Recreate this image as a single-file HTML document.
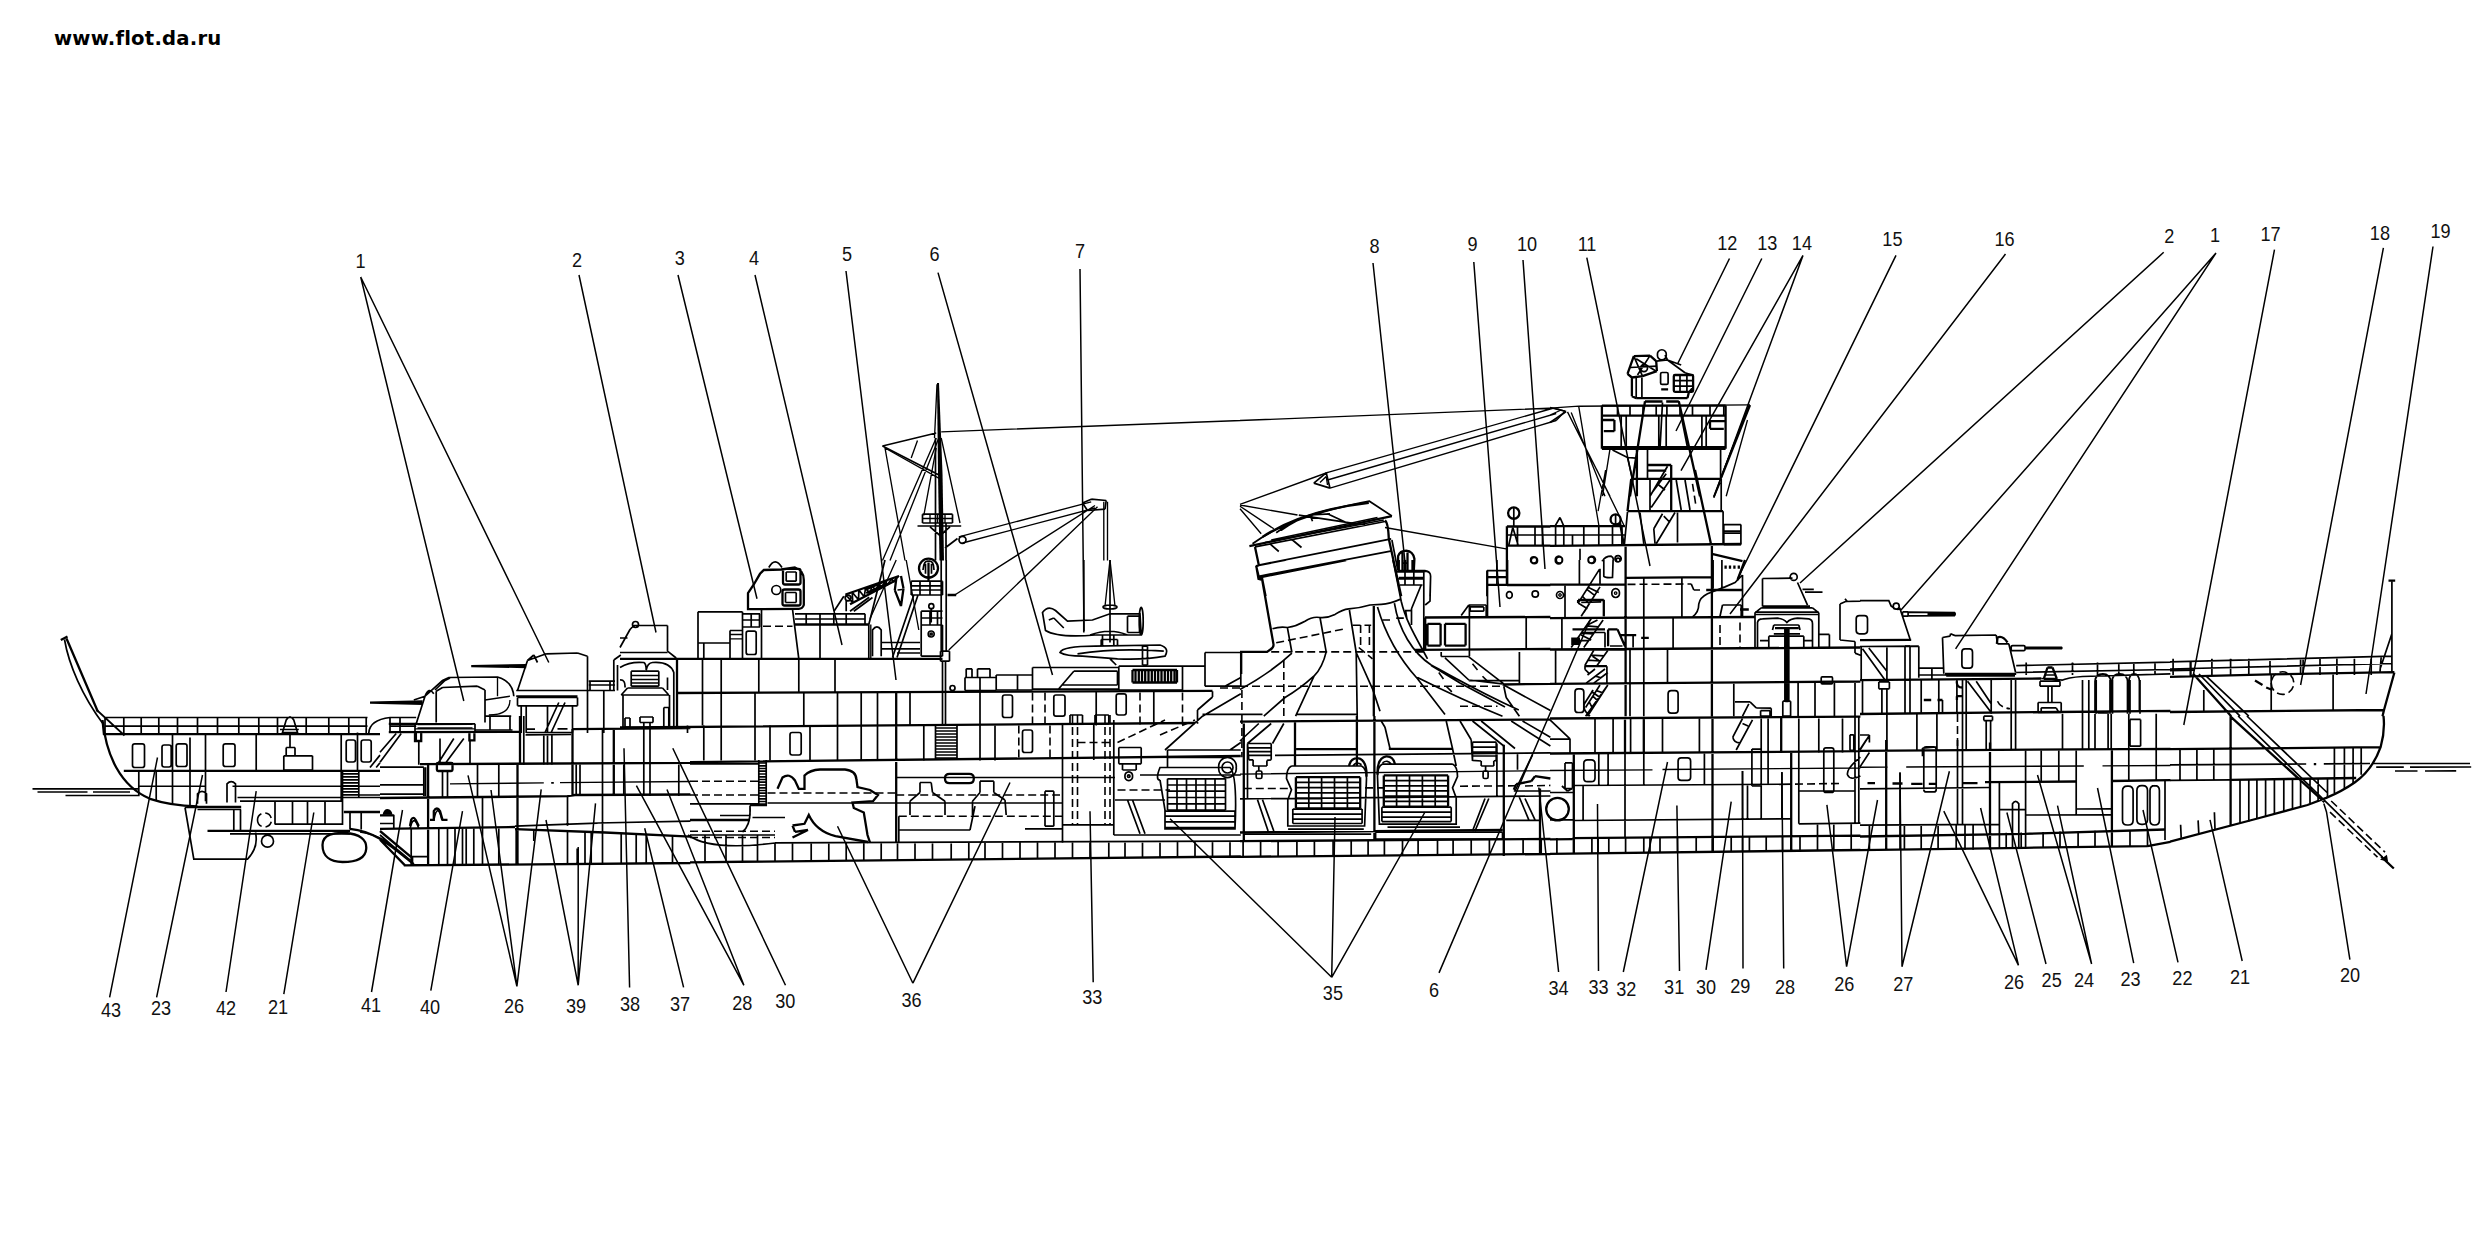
<!DOCTYPE html><html><head><meta charset="utf-8"><title>flot</title><style>
html,body{margin:0;padding:0;background:#fff}body{width:2483px;height:1251px;overflow:hidden;position:relative}
svg{position:absolute;left:0;top:0}
.wm{position:absolute;left:54px;top:27px;font:bold 19.65px "DejaVu Sans","Liberation Sans",sans-serif;color:#000;letter-spacing:0.2px;white-space:nowrap}
text{font-family:"Liberation Sans",sans-serif;font-size:19.5px;fill:#111}
</style></head><body>
<div class="wm">www.flot.da.ru</div>
<svg width="2483" height="1251" viewBox="0 0 2483 1251" fill="none" stroke="#000" stroke-linecap="butt" stroke-linejoin="miter">
<path stroke-width="1.35" d="M37.5 792L87.5 792M93 792L130 792M138.8 786.2L205.5 786.2M232.5 786.2L380 786.2M497.5 677L497.5 696.2M485 700L510 696.2M488.8 715Q510 715 510 700M415 728.8L475 728.8M588.8 685L615 685M730 634.5L742.5 634.5M730 638.8L742.5 638.8M870.8 624.5L870.8 658.8M896.2 560L870 618.8M906.2 560L918.8 630M1105 606.2L1110 560M1115 606.2L1110 560M1240 774.1L1550.4 770.6M1558.8 595A1.2 1.2 0 1 0 1561.2 595A1.2 1.2 0 1 0 1558.8 595ZM1614.4 593.1A1.2 1.2 0 1 0 1616.9 593.1A1.2 1.2 0 1 0 1614.4 593.1ZM1550 770.5L1652.5 769.8M1662.5 769.5L1860.4 768M1860 767.2L1887.5 767.1M1906.2 767L2083.8 766M2102.5 765.9L2170.4 765.5M1271.2 540L1377.5 517.5M1265 542.5L1383.8 520M1240 504.4L1327.5 472.5M1240 505L1297.5 515M1240 506.2L1273.8 528.8M1240 508.8L1261.2 533.8M1326.2 472.8L1553.8 408M1327.5 480L1556.2 413.5M1330 488.1L1556.2 420.5M1556.2 420.5L1565 411.2M1565 411.2L1553.8 408M1240 420.5L1555 408M1320 482.5L1326.2 476.5M1326.2 476.5L1327.5 485M1385 527.5L1506.2 548.8M1578.8 406.2L1750 404.8M1550 408.1L1578.8 406.2M1550 415L1561.2 410M1567.5 411.9L1610 496.2M1571.2 412.5L1605 496.2M1578.8 406.9L1593.8 496.2M1748.8 405.2L1713.8 496.2M1747.5 420L1726.2 496.2M1610 448.8L1602.5 496.2M1589.4 470L1598.8 525M1596.9 470L1623.8 525M1605.6 470L1598.1 511.2M937 384.2L934.5 438M941.2 431.8L1240.8 420.5M882.5 446L936.2 433M885 448L940.5 479.2M885 448L905 560.5M917.5 440.5L911.2 458M936.2 438L882.5 560.5M938.8 438L890 560.5M941.2 438L960 523M936.2 448L923.8 515.5M930 514.2L930 523M937.5 514.2L937.5 523M945 514.2L945 523M922.5 518.5L952.5 518.5M958.8 536.8L1091.2 501.8M962.5 543L1095 508M1103.8 501.8L1103.8 560.5M1107.5 501.8L1107.5 560.5M1095 505.5L955.5 594.5M1097.5 506.8L948.8 650M450 783.8L543.8 782.9M560 782.6L690.4 781.5"/>
<path stroke-width="1.7" d="M64.5 639.5C68.8 665 82.5 696.2 103 723.8M96.2 709.5L124.5 735.5M32.5 788.8L138.8 788.8M65.5 795.5L138.8 795.5M103.8 717.5L367.5 717.5M105 726.2L367.5 726.2M390 717.5L416.2 717.5M390 726.2L416.2 726.2M105 717.5L105 734.2M123.8 717.5L123.8 734.2M141.2 717.5L141.2 734.2M158.8 717.5L158.8 734.2M177.5 717.5L177.5 734.2M197.5 717.5L197.5 734.2M217.5 717.5L217.5 734.2M238.8 717.5L238.8 734.2M258.8 717.5L258.8 734.2M277.5 717.5L277.5 734.2M306.2 717.5L306.2 734.2M328.8 717.5L328.8 734.2M348.8 717.5L348.8 734.2M366.2 717.5L366.2 734.2M390 717.5L390 733M400 717.5L400 733M368.8 733Q369.5 720 390 717.5M282.5 732.5L286.2 720Q290 713.8 293.8 720L297.5 732.5ZM280 729.5L298.8 729.5M290 735L290 747.5M286.2 747.5L295 747.5M295 747.5L295 755.8M295 755.8L286.2 755.8M286.2 755.8L286.2 747.5M283.8 755.8L312.5 755.8M312.5 755.8L312.5 770M312.5 770L283.8 770M283.8 770L283.8 755.8M134.8 743.8L142.2 743.8Q144.5 743.8 144.5 746L144.5 765.2Q144.5 767.5 142.2 767.5L134.8 767.5Q132.5 767.5 132.5 765.2L132.5 746Q132.5 743.8 134.8 743.8ZM164.2 745L169 745Q171.2 745 171.2 747.2L171.2 764.8Q171.2 767 169 767L164.2 767Q162 767 162 764.8L162 747.2Q162 745 164.2 745ZM178.5 743.8L184.8 743.8Q187 743.8 187 746L187 764.2Q187 766.5 184.8 766.5L178.5 766.5Q176.2 766.5 176.2 764.2L176.2 746Q176.2 743.8 178.5 743.8ZM225.5 743.8L232.8 743.8Q235 743.8 235 746L235 764.2Q235 766.5 232.8 766.5L225.5 766.5Q223.2 766.5 223.2 764.2L223.2 746Q223.2 743.8 225.5 743.8ZM348.5 740L353.2 740Q355.5 740 355.5 742.2L355.5 759.8Q355.5 762 353.2 762L348.5 762Q346.2 762 346.2 759.8L346.2 742.2Q346.2 740 348.5 740ZM363.5 740L369 740Q371.2 740 371.2 742.2L371.2 759.8Q371.2 762 369 762L363.5 762Q361.2 762 361.2 759.8L361.2 742.2Q361.2 740 363.5 740ZM172.5 735L172.5 803.8M190 737.5L190 805M205.5 735L205.5 801.2M256.2 735L256.2 770.8M341.2 735L341.2 801.2M357.5 732.5L357.5 770.8M138.8 771.2L138.8 796.2M156.2 771.2L156.2 800.5M237.5 797.5L380 797.5M240 801.2L342.5 801.2M275 801.2L275 824.5M292.5 801.2L292.5 824.5M307.5 801.2L307.5 824.5M325 801.2L325 824.5M342.5 797.5L342.5 825M275 824.2L343 824.2M350 812.5L350 829.5M361.2 812.5L361.2 829.5M342.5 770.8L342.5 797.5M358.8 770.8L358.8 797.5M342.5 773.8L358.8 773.8M342.5 776.8L358.8 776.8M342.5 779.8L358.8 779.8M342.5 782.8L358.8 782.8M342.5 785.8L358.8 785.8M342.5 788.8L358.8 788.8M342.5 791.8L358.8 791.8M342.5 794.8L358.8 794.8M358.8 770.8L380 770.8M380 795L358.8 795M358.8 795L358.8 770.8M227 802.5L227 783.8Q231.2 779.5 235.5 783.8L235.5 802.5M197.5 803.8L197.5 793.8Q202 788.8 206.5 793.8L206.5 803.8M197.5 809.5L241.2 809.5M185 807.5L193.8 859.2L247.5 859.2Q258.8 847.5 255.5 832.5M233.8 810L233.8 830.5M240.5 810L240.5 830.5M230 833.8L350 833.8M261.5 841.2A6 6 0 1 0 273.5 841.2A6 6 0 1 0 261.5 841.2ZM360 832C382.5 835 395 847.5 410 860M410 828.8Q413.8 812.5 418.8 828.8M433.8 820Q437.5 801.2 442 820M370 767.5L380 755.1M376.2 767.5L380 762.8M416.2 723.8L425 696.2L442.5 680.5L448.8 677.5L497.5 677Q512.5 681.2 513.8 696.2M435 690L445 680.5M445 680.5L450 678M436.2 722.5L436.2 691.2M436.2 691.2L442.5 687.5M442.5 687.5L477.5 686.2M477.5 686.2L485 690M485 690L485 722.5M413.8 700L425 696.2M425 696.2Q428.8 686.2 433.8 693.8M415 723.8L475 723.8M475 723.8L475 733M415 733L415 723.8M490 716.2L490 730M510 716.2L510 730M485 716.2L511.2 716.2M475 730L512.5 730M517.5 690.5L527.5 660.5M527.5 660.5L546.2 653.8M546.2 653.8L577.5 653M577.5 653L587.5 656.2M587.5 656.2L587.5 690.5M527.5 660.5L533.8 655M533.8 655L537.5 662.5M516.2 690.5L615 690.5M516.2 696.2L577.5 696.2M517.5 697.5L577.5 697.5M577.5 697.5L577.5 705.8M577.5 705.8L517.5 705.8M517.5 705.8L517.5 697.5M521.2 705.8L521.2 733M526.2 705.8L526.2 733M545 732.5L558.8 702.5M551.2 732.5L565 702.5M547.5 706.2L547.5 732.5M572.5 706.2L572.5 732.5M587.5 690.5L587.5 733M603.8 690.5L603.8 733M590 681.2L590 690.5M610 681.2L610 690.5M588.8 681.2L615 681.2M526.2 732.5L572.5 732.5M620.8 655L613.8 660M613.8 660L613.8 690.5M617.5 665L617.5 690.5M620 647.5L630 629.5M630 629.5L633.8 625.5M633.8 625.5L667.5 625.5M667.5 625.5L667.5 651.2M667.5 651.2L676.2 658M632.5 624.5A3 3 0 1 0 638.5 624.5A3 3 0 1 0 632.5 624.5ZM620 652.5L667.5 652.5M620 638L627.5 638M620 667.5Q630 661.2 643.8 662.5Q646.2 663.8 646.2 670Q647.5 663 652.5 662.5Q670 661.2 673.8 672.5L673.8 727M631.2 671.2L658.8 671.2M658.8 671.2L658.8 686.2M658.8 686.2L631.2 686.2M631.2 686.2L631.2 671.2M631.2 675.5L658.8 675.5M631.2 679.5L658.8 679.5M631.2 683L658.8 683M621.2 695L627.5 688M627.5 688L662.5 688M662.5 688L668.8 695M621.2 695L668.8 695M620 680Q625.5 679.5 625 687.5M667.5 677.5L667.5 690M623 695L623 727M669.5 695L669.5 727M640 717L653 717M653 717L653 722.5M653 722.5L640 722.5M640 722.5L640 717M643.8 722.5L643.8 733M650 722.5L650 733M625 718L630 718M630 718L630 727M630 727L625 727M625 727L625 718M663.8 707.5L668.8 707.5M668.8 707.5L668.8 727M668.8 727L663.8 727M663.8 727L663.8 707.5M775 842.8L1240.8 841.2M690 835L775 835M775 842.8L775 861.4M792.5 842.7L792.5 861.2M811.2 842.6L811.2 861M828.8 842.6L828.8 860.8M846.2 842.5L846.2 860.6M863.8 842.5L863.8 860.4M881.2 842.4L881.2 860.3M897.5 842.4L897.5 860.1M915 842.3L915 859.9M932.5 842.3L932.5 859.7M951.2 842.2L951.2 859.5M968.8 842.2L968.8 859.3M985 842.1L985 859.2M1002.5 842.1L1002.5 859M1020 842L1020 858.8M1037.5 842L1037.5 858.6M1055 841.9L1055 858.4M1072.5 841.9L1072.5 858.2M1090 841.8L1090 858.1M1108.8 841.7L1108.8 857.9M1125 841.7L1125 857.7M1142.5 841.6L1142.5 857.5M1160 841.6L1160 857.3M1177.5 841.5L1177.5 857.1M1195 841.5L1195 857M1212.5 841.4L1212.5 856.8M1230 841.4L1230 856.6M705 835L705 862.1M726 835L726 861.9M742.5 835L742.5 861.7M757.5 835L757.5 861.6M698 611.8L742.5 611.8M742.5 611.8L742.5 658.8M742.5 658.8L698 658.8M698 658.8L698 611.8M698 643L730 643M730 630.5L730 658.8M703.8 643.8L703.8 658.8M730 630.5L742.5 630.5M742.5 613.8L742.5 627M751.2 613.8L751.2 627M759.5 613.8L759.5 627M742.5 613.8L760 613.8M742.5 620L760 620M742.5 627L760 627M768.8 567.5Q775 556.2 782 567.5M786.2 572L796.2 572M796.2 572L796.2 581.2M796.2 581.2L786.2 581.2M786.2 581.2L786.2 572M785.5 592.5L796.2 592.5M796.2 592.5L796.2 602.5M796.2 602.5L785.5 602.5M785.5 602.5L785.5 592.5M771.8 590A4.5 4.5 0 1 0 780.8 590A4.5 4.5 0 1 0 771.8 590ZM761.5 609.2L761.5 658.8M792.5 609.2L798.8 658.8M748.2 631.2L754.2 631.2Q756.2 631.2 756.2 633.2L756.2 652.5Q756.2 654.5 754.2 654.5L748.2 654.5Q746.2 654.5 746.2 652.5L746.2 633.2Q746.2 631.2 748.2 631.2ZM795 613.8L865 613.8M795 619L865 619M806.2 613.8L806.2 624.5M820 613.8L820 624.5M833.8 613.8L833.8 624.5M846.2 613.8L846.2 624.5M865 613.8L865 624.5M820 624.5L820 658.8M868.8 624.5L868.8 658.8M845.2 598A2.8 2.8 0 1 0 850.8 598A2.8 2.8 0 1 0 845.2 598ZM845.5 594.5L852.8 602.8M852.8 602.8L852.2 592.2M852.2 592.2L858.5 599.8M858.5 599.8L858.9 589.9M858.9 589.9L864.2 596.8M864.2 596.8L865.6 587.6M865.6 587.6L869.9 593.9M869.9 593.9L872.2 585.2M872.2 585.2L875.6 590.9M875.6 590.9L878.9 582.9M878.9 582.9L881.3 587.9M881.3 587.9L885.6 580.6M885.6 580.6L887 585M887 585L892.3 578.3M892.3 578.3L892.7 582M892.7 582L899 576M843.8 596.2L834 611.2M846.2 600.8L846.2 611.2M850 611.2L869.2 597.2M853.8 611.2L872.5 597.5M897.5 590L902.5 589.5M941.2 560L941.2 651.2M946.2 560L946.2 651.2M942.5 661.2L942.5 725.5M945.5 661.2L945.5 725.5M940.5 651.2L949.5 651.2M949.5 651.2L949.5 661.2M949.5 661.2L940.5 661.2M940.5 661.2L940.5 651.2M913.8 595L892.5 657.5M918 595L897 657.5M885 560L868.8 624.5M911.2 581.2L942.5 581.2M942.5 581.2L942.5 595M942.5 595L911.2 595M911.2 595L911.2 581.2M911.2 585.8L942.5 585.8M911.2 590L942.5 590M920 581.2L920 595M930 581.2L930 595M923 570Q923.8 560 928.5 561.2Q933.8 560 934 570M925.5 563.8L925.5 573.8M931.5 563.8L931.5 573.8M921.2 625L942.5 625M942.5 625L942.5 656.2M942.5 656.2L921.2 656.2M921.2 656.2L921.2 625M928.2 634A3 3 0 1 0 934.2 634A3 3 0 1 0 928.2 634ZM930.2 634A1 1 0 1 0 932.2 634A1 1 0 1 0 930.2 634ZM921.2 611.2L942.5 611.2M921.2 618L942.5 618M921.2 611.2L921.2 625M930 611.2L930 625M937.5 611.2L937.5 625M928.8 606.2A2.5 2.5 0 1 0 933.8 606.2A2.5 2.5 0 1 0 928.8 606.2ZM931.2 608.8L931.2 622.5M872.5 656.2L872.5 630Q877 623.8 881.2 630L881.2 656.2M881.2 642.5L920 642.5M881.2 648.8L920 648.8M897 653L920 653M702.5 658.8L702.5 692.5M721.2 658.8L721.2 692.5M758.8 658.8L758.8 692.5M798.8 658.8L798.8 692.5M835 658.8L835 692.5M702.5 692.5L702.5 725.5M721.2 692.5L721.2 725.5M755 692.5L755 725.5M803.8 692.5L803.8 725.5M837.5 692.5L837.5 725.5M861.2 692.5L861.2 725.5M877.5 692.5L877.5 725.5M910 692.5L910 725.5M687.5 725.5L687.5 733M703.8 725.5L703.8 760.5M721.2 725.5L721.2 760.5M755 725.5L755 760.5M770 725.5L770 760.5M810 725.5L810 760.5M837.5 725.5L837.5 760.5M861.2 725.5L861.2 760.5M877.5 725.5L877.5 760.5M923.8 725.5L923.8 760.5M980 725.5L980 760.5M995 725.5L995 760.5M792.2 732.5L799 732.5Q801.2 732.5 801.2 734.8L801.2 752.8Q801.2 755 799 755L792.2 755Q790 755 790 752.8L790 734.8Q790 732.5 792.2 732.5ZM935.5 725.5L935.5 760M957 725.5L957 760M935.5 728L957 728M935.5 731L957 731M935.5 734L957 734M935.5 737L957 737M935.5 740L957 740M935.5 743L957 743M935.5 746L957 746M935.5 749L957 749M935.5 752L957 752M935.5 755L957 755M935.5 758L957 758M690 763.8L758.8 763.8M758.8 763.8L758.8 803.8M758.8 803.8L690 803.8M758.8 760L758.8 806.2M766.2 760L766.2 806.2M758.8 763L766.2 763M758.8 765.8L766.2 765.8M758.8 768.5L766.2 768.5M758.8 771.2L766.2 771.2M758.8 774L766.2 774M758.8 776.8L766.2 776.8M758.8 779.5L766.2 779.5M758.8 782.2L766.2 782.2M758.8 785L766.2 785M758.8 787.8L766.2 787.8M758.8 790.5L766.2 790.5M758.8 793.2L766.2 793.2M758.8 796L766.2 796M758.8 798.8L766.2 798.8M758.8 801.5L766.2 801.5M758.8 804.2L766.2 804.2M688 835Q710 851.2 775 843M720 815.5L750 815.5M750 815.5L750 805.5M750 805.5L766.2 805.5M750 806.2Q751.2 825 742.5 832M767.5 803L1062.5 803M752.5 817.5L785 817.5M896.2 777.5L1115 777.5M1062.5 824.8L1113.8 824.8M910 815L910 801.2M910 801.2L920 792.5M920 792.5L920 782.5M920 782.5L931.2 782.5M931.2 782.5L932.5 792.5M932.5 792.5L945 801.2M945 801.2L945 815M972.5 815L972.5 801.2M972.5 801.2L980 792.5M980 792.5L980 781.2M980 781.2L993.8 781.2M993.8 781.2L993.8 792.5M993.8 792.5L1005 800M1005 800L1006.2 815M898.8 830L970 830M970 830L975 806.2M898.8 816.2L898.8 843M1045 791.2L1053.8 791.2M1053.8 791.2L1053.8 826.2M1053.8 826.2L1045 826.2M1045 826.2L1045 791.2M1025 828.8L1062.5 828.8M1062.5 723.8L1062.5 843M1113.8 720L1113.8 835M1070 715L1082.5 715M1082.5 715L1082.5 723.8M1082.5 723.8L1070 723.8M1070 723.8L1070 715M1095 715L1108.8 715M1108.8 715L1108.8 723.8M1108.8 723.8L1095 723.8M1095 723.8L1095 715M1093.8 723.8L1093.8 760M1113.8 835L1240.8 835M1118.8 747.5L1141.2 747.5M1141.2 747.5L1141.2 763.8M1141.2 763.8L1118.8 763.8M1118.8 763.8L1118.8 747.5M1122.5 763.8L1136.2 763.8M1136.2 763.8L1136.2 770M1136.2 770L1122.5 770M1122.5 770L1122.5 763.8M1125 776.2A3.8 3.8 0 1 0 1132.5 776.2A3.8 3.8 0 1 0 1125 776.2ZM1127.5 776.2A1.2 1.2 0 1 0 1130 776.2A1.2 1.2 0 1 0 1127.5 776.2ZM1115 800L1165 800M1140 775L1240.8 775M1127.5 800L1140 833.8M1132.5 800L1145 833.8M1160 780Q1155 780 1160 767.5L1230 767.5Q1237.5 775 1235 828.8L1165 828.8L1165 810L1160 780M1167.5 778.8L1225.5 778.8M1225.5 778.8L1225.5 810M1225.5 810L1167.5 810M1167.5 810L1167.5 778.8M1177 778.8L1177 810M1186.5 778.8L1186.5 810M1196 778.8L1196 810M1205.5 778.8L1205.5 810M1215 778.8L1215 810M1167.5 785L1225.5 785M1167.5 791.2L1225.5 791.2M1167.5 797.5L1225.5 797.5M1167.5 803.8L1225.5 803.8M1165 811.2L1235 811.2M1235 811.2L1235 827.5M1235 827.5L1165 827.5M1165 827.5L1165 811.2M1165 816.2L1235 816.2M1165 821.8L1235 821.8M1218.8 767.5A8.8 8.8 0 1 0 1236.2 767.5A8.8 8.8 0 1 0 1218.8 767.5ZM1222 767.5A5.5 5.5 0 1 0 1233 767.5A5.5 5.5 0 1 0 1222 767.5ZM1167.5 750L1240.8 750M1167.5 757.5L1230 757.5M1167.5 750L1167.5 767.5M1165 750L1202.5 716.2M1202.5 716.2L1240.8 693.8M1230 750L1240.8 742.5M1212.5 691.2L1212.5 697M1212.5 697L1197.5 710M1197.5 710L1197.5 723.8M965 677.5L980 677.5M980 677.5L980 690.5M980 690.5L965 690.5M965 690.5L965 677.5M966.2 668.8L972 668.8M972 668.8L972 677.5M972 677.5L966.2 677.5M966.2 677.5L966.2 668.8M977.5 668.8L990 668.8M990 668.8L990 677.5M990 677.5L977.5 677.5M977.5 677.5L977.5 668.8M980 677.5L980 690.5M980 677.5L996.2 677.5M996.2 677.5L996.2 690.5M996.2 690.5L980 690.5M980 690.5L980 677.5M996.2 675L1017.5 675M1017.5 675L1017.5 690M1017.5 690L996.2 690M996.2 690L996.2 675M1017.5 675L1032.5 675M1032.5 675L1032.5 690M1032.5 690L1017.5 690M1017.5 690L1017.5 675M950 688A2.5 2.5 0 1 0 955 688A2.5 2.5 0 1 0 950 688ZM1032.5 667.5L1118.8 667.5M1118.8 667.5L1118.8 689.2M1118.8 689.2L1032.5 689.2M1032.5 689.2L1032.5 667.5M1058.8 688.8L1073.8 671.2M1073.8 671.2L1117.5 671.2M1117.5 671.2L1117.5 685M1117.5 685L1062.5 685M1118.8 666.2L1182.5 666.2M1182.5 666.2L1182.5 690M1182.5 690L1118.8 690M1118.8 690L1118.8 666.2M1182.5 666.2L1205 666.2M1205 652.5L1240.8 652.5M1240.8 652.5L1240.8 686.2M1240.8 686.2L1205 686.2M1205 686.2L1205 652.5M1225 686.2L1240.8 677.5M1060 652.5Q1062.5 646.2 1095 646.2L1160 645Q1170 648 1165 656.2Q1145 660 1117.5 658.8L1082.5 656.2Q1066.2 656.2 1060 652.5ZM1077.5 653.8Q1117.5 647.5 1163.8 651.2M1042.5 612.5Q1048 605 1055.5 610.5L1067.5 621.2L1092.5 620L1110 613.8L1140 613.8L1141.2 635L1095 635Q1057.5 638 1045.5 630.5ZM1048.8 620L1053.8 618M1053.8 618L1063.8 628M1090 635Q1110 627.5 1127.5 635M1139.2 621.2A2 13.8 0 1 0 1143.2 621.2A2 13.8 0 1 0 1139.2 621.2ZM1127.5 616.2L1139.5 616.2M1139.5 616.2L1139.5 632.5M1139.5 632.5L1127.5 632.5M1127.5 632.5L1127.5 616.2M1110 560L1110 642.5M1083.8 560L1083.8 632.5M1103 607A7 2 0 1 0 1117 607A7 2 0 1 0 1103 607ZM1102.5 635L1102.5 646.2M1113.8 635L1113.8 646.2M1101.2 639.5L1117.5 639.5M1117.5 639.5L1117.5 646.2M1117.5 646.2L1101.2 646.2M1101.2 646.2L1101.2 639.5M1142.5 646.2L1147.5 646.2M1147.5 646.2L1147.5 665M1147.5 665L1142.5 665M1142.5 665L1142.5 646.2M1110 658.8L1116.2 665M1004.8 695L1010.2 695Q1012.5 695 1012.5 697.2L1012.5 715.2Q1012.5 717.5 1010.2 717.5L1004.8 717.5Q1002.5 717.5 1002.5 715.2L1002.5 697.2Q1002.5 695 1004.8 695ZM1056 695L1062.8 695Q1065 695 1065 697.2L1065 714Q1065 716.2 1062.8 716.2L1056 716.2Q1053.8 716.2 1053.8 714L1053.8 697.2Q1053.8 695 1056 695ZM1118.5 693.8L1124 693.8Q1126.2 693.8 1126.2 696L1126.2 712.8Q1126.2 715 1124 715L1118.5 715Q1116.2 715 1116.2 712.8L1116.2 696Q1116.2 693.8 1118.5 693.8ZM1024.8 730L1030.2 730Q1032.5 730 1032.5 732.2L1032.5 750.2Q1032.5 752.5 1030.2 752.5L1024.8 752.5Q1022.5 752.5 1022.5 750.2L1022.5 732.2Q1022.5 730 1024.8 730ZM980 691.2L980 725.5M1096.2 691.2L1096.2 725.5M1153.8 691.2L1153.8 725.5M1256.2 565.8L1286.5 560M1258.8 577.8L1346.2 560.5M1272.5 628.8Q1280 626.2 1287.5 627.5Q1296.2 626.2 1305 621.2Q1312.5 616.2 1320 617.5Q1327.5 618.1 1335 614.4Q1342.5 609.4 1348.8 608.8Q1360 608.1 1370 605L1381.2 604.4Q1390 603.8 1400 599.4M1287.5 628.1L1291.9 652.5M1320 617.5L1326.2 651.9Q1322.5 667.5 1314 676.2L1295.6 716.2M1291.9 653.1Q1271.2 672.5 1240 689.4M1313.8 676.2Q1300 688.8 1285 697.5L1263.8 716.2M1349.4 610L1356.2 652.5M1356.2 652.5L1357.2 716.2M1356.2 652.5L1372.5 688.8M1372.5 688.8L1380 711.2M1296.2 714.4L1357.5 714.4M1202.5 714.4L1262.5 714.4M1377.5 606.9C1385 632.5 1396.2 655 1417.5 678.8L1445 714.4M1394.4 603.1C1398.8 630 1412.5 652.5 1431.2 665C1452.5 676.2 1477.5 691.2 1518.8 710M1393.1 560L1401.2 601.2C1406.2 622.5 1417.5 640 1427.5 658.8M1417.5 677.5C1440 688.8 1465 701.2 1502.5 716.2M1431.2 665.6L1460 683.1M1460 683.1L1505 706.9M1396.2 571.9L1423.8 571.9M1398.1 578.8L1423.8 578.8M1400 585L1422.5 585M1405 571.9L1405 585M1413.8 571.9L1413.8 585M1423.8 571.2L1423.8 649.4M1423.8 571.2Q1430.6 571 1430.6 576.2L1430 601.2L1425.2 605M1401.2 585L1421.2 585M1421.2 585L1411.5 608.8M1411.5 608.8L1411.5 625M1405 610.6L1411.5 610.6M1405.6 610.6L1406.9 618.8M1469.4 605L1469.4 656.2M1526.2 617.5L1526.2 649.4M1461.2 615.6L1468.8 605M1468.8 605L1486.2 605M1486.2 605L1486.2 616.2M1470.2 606.9L1483.8 606.9M1483.8 606.9L1483.8 611.2M1483.8 611.2L1470.2 611.2M1470.2 611.2L1470.2 606.9M1487.5 570.6L1487.5 616.2M1487.5 570.6L1507.5 570.6M1487.5 576.9L1507.5 576.9M1496.9 560L1496.9 584.8M1507.5 560L1507.5 584.8M1506.6 595A2.8 2.8 0 1 0 1512.1 595A2.8 2.8 0 1 0 1506.6 595ZM1532.1 594A3.1 3.1 0 1 0 1538.4 594A3.1 3.1 0 1 0 1532.1 594ZM1530.6 560A3.1 3.1 0 1 0 1536.9 560A3.1 3.1 0 1 0 1530.6 560ZM1441.2 651.9L1441.2 656.5M1441.2 656.5L1468.8 656.5M1445 657.8L1468.8 680M1468.8 680L1502.5 683.8M1468.8 656.9L1503.8 683.8M1468.8 680.6L1519.4 680.6M1519.4 651.9L1519.4 683.8M1503.8 685L1550.4 710.6M1503.8 686.2L1506.2 697.5M1506.2 697.5L1519.4 716.2M1275 755.4L1550.4 752.9M1240 798.8L1550.4 796M1375.6 832.2L1502.5 832.2M1502.5 832.2L1502.5 839.1M1502.5 839.1L1375.6 839.1M1375.6 839.1L1375.6 832.2M1243.8 834.1L1371.2 834.1M1243.1 841.2L1243.1 856.7M1260.6 841.1L1260.6 856.6M1278.1 841L1278.1 856.4M1296.9 840.8L1296.9 856.2M1314.4 840.7L1314.4 856.1M1333.1 840.6L1333.1 855.9M1351.2 840.4L1351.2 855.7M1368.1 840.3L1368.1 855.6M1384.4 840.2L1384.4 855.5M1402.5 840L1402.5 855.3M1418.1 839.9L1418.1 855.1M1437.5 839.8L1437.5 855M1453.1 839.7L1453.1 854.8M1471.2 839.5L1471.2 854.7M1489.4 839.4L1489.4 854.5M1503.8 839.3L1503.8 854.4M1523.1 839.1L1523.1 854.2M1541.2 839L1541.2 854M1291.5 766L1361.5 766Q1366.5 768.5 1366.5 778.5L1364.6 826L1287.8 826L1287.8 799.8L1291.5 789.8L1286.5 778.5Q1286.5 768.5 1291.5 766M1308.8 777.2L1308.8 808.5M1321.6 777.2L1321.6 808.5M1334.5 777.2L1334.5 808.5M1347.4 777.2L1347.4 808.5M1295.9 782.4L1360.2 782.4M1295.9 787.6L1360.2 787.6M1295.9 792.8L1360.2 792.8M1295.9 798L1360.2 798M1295.9 803.2L1360.2 803.2M1292.8 809.1L1362.1 809.1M1362.1 809.1L1362.1 823.5M1362.1 823.5L1292.8 823.5M1292.8 823.5L1292.8 809.1M1292.8 814.1L1362.1 814.1M1292.8 819.1L1362.1 819.1M1352.8 766Q1356.5 761 1361.5 764.8M1452.5 764.1L1382.5 764.1Q1377.5 766.6 1377.5 776.6L1379.4 824.1L1456.2 824.1L1456.2 797.9L1452.5 787.9L1457.5 776.6Q1457.5 766.6 1452.5 764.1M1435.2 775.4L1435.2 806.6M1422.4 775.4L1422.4 806.6M1409.5 775.4L1409.5 806.6M1396.6 775.4L1396.6 806.6M1383.8 780.6L1448.1 780.6M1383.8 785.8L1448.1 785.8M1383.8 790.9L1448.1 790.9M1383.8 796.1L1448.1 796.1M1383.8 801.3L1448.1 801.3M1381.9 807.2L1451.2 807.2M1451.2 807.2L1451.2 821.6M1451.2 821.6L1381.9 821.6M1381.9 821.6L1381.9 807.2M1381.9 812.2L1451.2 812.2M1381.9 817.2L1451.2 817.2M1391.2 764.1Q1387.5 759.1 1382.5 762.9M1288.1 829.1L1363.8 829.1M1387.5 827.2L1460 827.2M1381.2 721L1385 727.2M1385 727.2L1390 748.5M1446.2 721L1452.5 748.5M1452.5 748.5L1456.2 766M1460 721L1471.2 739.8M1471.2 739.8L1472.5 761M1247.5 743.5L1271.2 743.5M1271.2 743.5L1271.2 759.8M1271.2 759.8L1266.9 760.4M1266.9 760.4L1266.9 766M1266.9 766L1253.1 766M1253.1 766L1253.1 759.8M1253.1 759.8L1248.8 759.8M1248.8 759.8L1247.5 743.5M1248.1 747.9L1271.2 747.9M1248.1 751.6L1271.2 751.6M1248.1 755.4L1271.2 755.4M1240 741L1258.8 723.5M1247.5 743.5L1271.2 723.5M1272.5 743.5L1283.8 723.5M1258.8 766L1258.8 771M1257.8 771L1260.4 771Q1261.9 771 1261.9 772.5L1261.9 777Q1261.9 778.5 1260.4 778.5L1257.8 778.5Q1256.2 778.5 1256.2 777L1256.2 772.5Q1256.2 771 1257.8 771ZM1472.5 742.2L1496.2 742.2M1496.2 742.2L1496.2 760.4M1496.2 760.4L1493.8 761M1493.8 761L1493.8 766M1493.8 766L1481.2 766M1481.2 766L1481.2 761M1481.2 761L1472.5 760.4M1472.5 760.4L1472.5 742.2M1472.5 747.2L1496.2 747.2M1472.5 752.2L1496.2 752.2M1472.5 756L1496.2 756M1485.6 766L1485.6 771M1484.6 771L1486.6 771Q1488.1 771 1488.1 772.5L1488.1 777Q1488.1 778.5 1486.6 778.5L1484.6 778.5Q1483.1 778.5 1483.1 777L1483.1 772.5Q1483.1 771 1484.6 771ZM1257.5 799.8L1268.1 831M1262.5 799.8L1273.8 831M1488.8 798.5L1475 831M1485 798.5L1472.5 831M1247.5 744.8L1247.5 798.5M1496.9 743.5L1496.9 796M1472.5 721L1503.8 746M1481.2 721L1515 748.5M1511.2 721L1550.4 746M1522.5 721L1550.4 737.2M1517.5 753.5L1517.5 769.8M1513.8 791L1550.4 791M1518.8 796L1528.8 819.8M1525 798.5L1535 819.8M1506.2 820.4L1540 820.4M1532.5 754.8L1515 791M1565 585.6L1565 617.8M1561.9 618.8L1561.9 649M1555.6 650.2L1555.6 683.5M1630 649L1630 716.2M1643.8 577.5L1643.8 716.2M1681.9 577.5L1681.9 617.1M1673.1 618.1L1673.1 648.4M1667.5 649.4L1667.5 682.8M1755 612.5L1755 647.8M1579.4 560L1579.4 584M1599.4 569.4L1578.1 603.1M1599.4 569.4L1578.1 603.1M1600 586.9L1581.2 616.2M1587.5 586.9L1598.8 592.5M1578.1 603.1L1587.5 608.8M1581.2 602.5L1601.2 601.9M1600 568.8L1600 585M1591.2 618.8L1571.2 647.5M1603.1 620L1583.8 647.5M1587.5 625L1597.5 620M1581.2 635L1591.2 640M1582.5 632.5L1605 632.5M1605 632.5L1605 647.5M1593.8 650.2L1585 665.2M1607.8 650.6L1596.5 666.2M1592.5 656.2L1600 661.2M1585 665.2L1585 669.4M1585 669.4L1588.8 673.1M1606.9 666.2L1606.9 683.5M1605 669L1586.2 683.1M1595 669L1587.5 675M1607.8 685L1585.6 716.2M1593.1 690L1584.4 703.8M1591.2 691.2L1600 697.5M1584.4 703.8Q1582.5 710 1590 716.2M1578.1 688.8L1580.6 688.8Q1583.8 688.8 1583.8 691.9L1583.8 709.4Q1583.8 712.5 1580.6 712.5L1578.1 712.5Q1575 712.5 1575 709.4L1575 691.9Q1575 688.8 1578.1 688.8ZM1671.2 690.6L1675 690.6Q1678.1 690.6 1678.1 693.8L1678.1 710Q1678.1 713.1 1675 713.1L1671.2 713.1Q1668.1 713.1 1668.1 710L1668.1 693.8Q1668.1 690.6 1671.2 690.6ZM1556.5 595A3.5 3.5 0 1 0 1563.5 595A3.5 3.5 0 1 0 1556.5 595ZM1611.9 593.1A3.8 3.8 0 1 0 1619.4 593.1A3.8 3.8 0 1 0 1611.9 593.1ZM1556.2 560A3.1 3.1 0 1 0 1562.5 560A3.1 3.1 0 1 0 1556.2 560ZM1588.1 560A3.1 3.1 0 1 0 1594.4 560A3.1 3.1 0 1 0 1588.1 560ZM1616.2 560A1.9 1.9 0 1 0 1620 560A1.9 1.9 0 1 0 1616.2 560ZM1603.8 560L1603.8 576.2Q1605 578.1 1612.5 577.5L1613.1 560M1633.1 635L1633.1 647.5M1610 646L1622.5 646M1691.2 583.8L1693.8 590M1693.8 590L1700 590M1692.5 616.9Q1698.8 612.5 1698.8 603.8Q1700 597.5 1707.5 593.8L1725 586.9L1735 582.5L1742.5 575M1713.1 560L1713.1 588.8M1721.9 560L1721.9 587.5M1742.5 575L1742.5 617.5M1720 616.2L1722.5 605M1722.5 605L1741.2 605M1741.2 605L1741.2 616.2M1762.5 606.5L1762.5 578.5M1762.5 578.5L1792.5 578.2M1797.5 582.5L1807.5 605.2M1790.2 576.9A3.5 3.5 0 1 0 1797.2 576.9A3.5 3.5 0 1 0 1790.2 576.9ZM1802.5 589.4L1813.8 589.4M1805 592.2L1822.5 592.2M1755 612.8L1761.2 607.8M1761.2 607.8L1812.5 607.8M1812.5 607.8L1818.8 612.8M1818.8 612.8L1818.8 647.5M1755 612.1L1818.8 612.1M1755 614.5L1818.8 614.5M1757.5 647.5L1757.5 622.5Q1758.1 618.8 1762.5 618.8L1777.5 618.2Q1783.8 618.8 1786.9 622.5Q1790 618.8 1797.5 618.2L1808.8 618.8Q1812.5 619.4 1812.5 623.8L1812.5 647.5M1772.5 630L1773.8 625M1773.8 625L1798.8 625M1798.8 625L1800 630M1768.8 647.5L1768.8 636.2M1768.8 636.2L1803.8 636.2M1803.8 636.2L1803.8 647.5M1773.8 633.8L1800 633.8M1760 640.6L1768.8 640.6M1803.8 640.6L1812.5 640.6M1818.8 634.4L1829.4 634.4M1829.4 634.4L1829.4 647.5M1829.4 647.5L1818.8 647.5M1818.8 647.5L1818.8 634.4M1840 640L1840 604M1840 604L1845.6 601.5M1845.6 601.5L1860.4 601.2M1840 640L1855 641.5M1855 641.5L1855 653.1M1855 653.1L1860.4 655.2M1845 598.8L1847.5 601.9M1733.8 683.8L1733.8 716.2M1735 701.9L1750 701.9M1750 701.9L1756.2 707.8M1756.2 707.8L1771.2 708.2M1771.2 708.2L1771.2 716.2M1748.8 703.8L1742.5 716.2M1760.6 710.6L1770 710.6M1770 710.6L1770 716.2M1770 716.2L1760.6 716.2M1760.6 716.2L1760.6 710.6M1822.2 676.9L1831.5 676.9Q1832.5 676.9 1832.5 677.9L1832.5 682.8Q1832.5 683.8 1831.5 683.8L1822.2 683.8Q1821.2 683.8 1821.2 682.8L1821.2 677.9Q1821.2 676.9 1822.2 676.9ZM1798.1 683.1L1798.1 716.2M1815 683.1L1815 716.2M1834.4 683.1L1834.4 716.2M1855 683.1L1855 716.2M1782.8 701.2L1790.6 701.2M1790.6 701.2L1790.6 716.2M1790.6 716.2L1782.8 716.2M1782.8 716.2L1782.8 701.2M1591.2 582.5L1578.1 603.1M1600 586.9L1583.8 612.5M1586.9 589.4L1594.6 595.4M1582.5 596.2L1589.2 604M1591.2 618.8L1571.2 647.5M1603.1 620L1583.8 647.5M1586.2 625.9L1598.3 626.9M1581.2 633.1L1593.4 633.8M1576.2 640.3L1588.6 640.6M1593.8 650.2L1585 665.2M1607.8 650.6L1596.5 666.2M1590.8 655.2L1604 655.8M1587.9 660.2L1600.2 661M1605 669L1586.2 683.1M1607.8 672.5L1593.8 683.1M1595.6 676.1L1600.8 677.8M1600 685L1585.6 707.5M1607.8 685L1587.5 716.2M1596.4 690.6L1602.7 692.8M1592.8 696.2L1597.6 700.6M1589.2 701.9L1592.6 708.4M1573.8 785.5L1791.2 784.2M1573.8 820.5L1791.2 818.8M1556.9 838.1L1556.9 853.7M1573.8 837.9L1573.8 853.5M1591.9 837.8L1591.9 853.2M1598.1 837.7L1598.1 853.2M1608.8 837.7L1608.8 853M1625.6 837.5L1625.6 852.8M1643.8 837.4L1643.8 852.6M1650 837.3L1650 852.5M1660 837.2L1660 852.4M1677.5 837.1L1677.5 852.2M1696.2 837L1696.2 852M1713.1 836.8L1713.1 851.8M1731.2 836.7L1731.2 851.6M1742.5 836.6L1742.5 851.4M1749.4 836.5L1749.4 851.4M1766.2 836.4L1766.2 851.2M1782.5 836.3L1782.5 851M1791.2 836.2L1791.2 850.9M1800 836.1L1800 850.8M1817.5 836L1817.5 850.5M1833.8 835.9L1833.8 850.3M1851.2 835.7L1851.2 850.1M1595 718.5L1595 752.5M1613.1 718.5L1613.1 752.5M1630.6 718.5L1630.6 752.5M1662.5 718.5L1662.5 752.5M1699.4 718.5L1699.4 752.5M1761.2 718.5L1761.2 752.5M1768.1 718.5L1768.1 752.5M1798.8 718.5L1798.8 752.5M1818.8 718.5L1818.8 752.5M1842.5 718.5L1842.5 752.5M1550 719.8L1570 738.8M1570 738.8L1570 752.9M1550 739.2L1570 739.2M1742.5 718.5L1732.8 737.2M1752.5 719.8L1736.2 750M1732.8 737.2Q1733.8 742.9 1740 742.9M1742.5 723.5L1748.1 726M1598.8 753.5L1598.8 785.4M1608.1 753.5L1608.1 785.4M1625 753.5L1625 785.4M1643.8 753.5L1643.8 785.4M1704.4 753.5L1704.4 784.5M1751.9 749.1L1761.2 749.1M1761.2 749.1L1761.2 786M1761.2 786L1751.9 786M1751.9 786L1751.9 749.1M1768.1 752.5L1768.1 783.5M1798.8 751.6L1798.8 823.8M1826 747.9L1831.5 747.9Q1833.8 747.9 1833.8 750.1L1833.8 790.2Q1833.8 792.5 1831.5 792.5L1826 792.5Q1823.8 792.5 1823.8 790.2L1823.8 750.1Q1823.8 747.9 1826 747.9ZM1855 716L1855 823.8M1858.8 716L1858.8 823.8M1850 734.8L1853.8 734.8M1853.8 734.8L1853.8 750.4M1853.8 750.4L1850 750.4M1850 750.4L1850 734.8M1587.5 759.8L1591.2 759.8Q1595 759.8 1595 763.5L1595 777.9Q1595 781.6 1591.2 781.6L1587.5 781.6Q1583.8 781.6 1583.8 777.9L1583.8 763.5Q1583.8 759.8 1587.5 759.8ZM1681.2 757.9L1687.5 757.9Q1690.6 757.9 1690.6 761L1690.6 777.2Q1690.6 780.4 1687.5 780.4L1681.2 780.4Q1678.1 780.4 1678.1 777.2L1678.1 761Q1678.1 757.9 1681.2 757.9ZM1565 762.9L1572.5 762.9M1572.5 762.9L1572.5 788.5M1572.5 788.5L1565 788.5M1565 788.5L1565 762.9M1561.9 786L1567.5 791M1567.5 791L1572.5 788.5M1583.1 786L1583.1 820M1625 785.4L1625 837.9M1747.5 785.4L1747.5 818.8M1761.2 785.4L1761.2 818.8M1742.5 771L1742.5 819.8M1781.9 772.2L1781.9 819.8M1550 792.5L1573.8 792.5M1550 819.8L1573.8 819.8M1798.8 791L1855 791M1798.8 823.8L1860.4 823.2M1817.5 823.8L1817.5 836.6M1833.8 823.8L1833.8 836.6M1851.2 823.8L1851.2 836.6M1860.4 757.2Q1846.2 768.5 1847.5 774.8Q1850 781 1860.4 776M1860 600.6L1888.8 600.6L1891.2 606.2Q1896.2 610.6 1900 608.8L1910 639M1893.2 606.2A3 3 0 1 0 1899.2 606.2A3 3 0 1 0 1893.2 606.2ZM1902.5 611.9L1908.1 611.9M1908.1 611.9L1908.1 616.2M1908.1 616.2L1902.5 616.2M1902.5 616.2L1902.5 611.9M1908.1 612.2L1955 612.5M1955 612.5L1955 615.6M1955 615.6L1908.1 615.9M1859.4 615.6L1864.4 615.6Q1867.5 615.6 1867.5 618.8L1867.5 630.6Q1867.5 633.8 1864.4 633.8L1859.4 633.8Q1856.2 633.8 1856.2 630.6L1856.2 618.8Q1856.2 615.6 1859.4 615.6ZM1860 646.5L1918.8 646.2M1918.8 646.2L1918.8 677.8M1905 646.2L1910 646.2M1910 646.2L1910 680M1910 680L1905 680M1905 680L1905 646.2M1862.5 648.8L1885 680M1868.8 648.1L1886.9 671.2M1886.9 647.5L1886.9 680M1861.2 646.5L1861.2 680M1918.8 668.1L1943.8 668.1M1918.8 675L1946.2 675M1931.9 668.1L1931.9 680M2016.2 665.6L2170.4 662.1M2016.2 672.5L2170.4 669.5M2041.2 678.5L2062.5 680M2061.2 680.6Q2067.5 677.5 2082.5 676.5L2170.4 673.8M2026.2 662.5L2026.2 675M2072.5 662.5L2072.5 675M2097.5 662.5L2097.5 675M2118.8 662.5L2118.8 675M2133.8 662.5L2133.8 675M2155 662.5L2155 675M1943.8 673.8L1942.5 637.5M1942.5 637.5L1950 636.2M1950 636.2L1950.6 633.8M1950.6 633.8L1955 635.6M1955 635.6L1996.2 635M1996.2 635L1997.5 643.8M1997.5 643.8L2008.8 643.8M2008.8 643.8L2015.6 672.5M1946.2 675.8L2015 675.8M1965 648.8L1969.4 648.8Q1972.5 648.8 1972.5 651.9L1972.5 665Q1972.5 668.1 1969.4 668.1L1965 668.1Q1961.9 668.1 1961.9 665L1961.9 651.9Q1961.9 648.8 1965 648.8ZM2012.5 645.6L2023.8 645.6Q2025 645.6 2025 646.9L2025 649.4Q2025 650.6 2023.8 650.6L2012.5 650.6Q2011.2 650.6 2011.2 649.4L2011.2 646.9Q2011.2 645.6 2012.5 645.6ZM1862.5 680L1862.5 713.8M1905 680L1905 713.8M1910 680L1910 713.8M1921.2 680L1921.2 713.8M1938.8 680L1938.8 713.8M1956.9 680L1956.9 713.8M1962.5 680L1962.5 713.8M1966.2 680L1966.2 713.8M1991.2 680L1991.2 713.8M2011.2 680L2011.2 713.8M2015.6 680L2015.6 713.8M2082.5 680L2082.5 713.8M2088.8 680L2088.8 713.8M2096.2 680L2096.2 713.8M2110 680L2110 713.8M2112.5 680L2112.5 713.8M2127.5 680L2127.5 713.8M2130 680L2130 713.8M2140 680L2140 713.8M1878.8 681.9L1889.4 681.9M1889.4 681.9L1889.4 688.8M1889.4 688.8L1878.8 688.8M1878.8 688.8L1878.8 681.9M1881.9 688.8L1881.9 713.8M1886.9 688.8L1886.9 713.8M1942.5 700L1942.5 713.8M1967.5 681.2L1991.2 712.5M1976.2 681.2L1991.2 703.8M2045 675L2055.6 675M2040 681.2L2060 681.2M2060 681.2L2060 686.2M2060 686.2L2040 686.2M2040 686.2L2040 681.2M2048.1 686.2L2048.1 702.5M2051.9 686.2L2051.9 702.5M2038.1 702.5L2061.2 702.5M2061.2 702.5L2061.2 712.5M2061.2 712.5L2038.1 712.5M2038.1 712.5L2038.1 702.5M2041.2 712.5L2041.2 707.8M2041.2 707.8L2056.2 707.8M2056.2 707.8L2058.8 712.5M2095 711.9L2095 681.2Q2095.6 673.8 2102.8 673.8Q2110 674 2110.6 681.2L2110.6 711.9M2111.9 711.9L2111.9 681.2Q2112.5 673.8 2119.7 673.8Q2126.9 674 2127.5 681.2L2127.5 711.9M2128.8 711.9L2128.8 681.2Q2129.4 673.8 2134.1 673.8Q2138.8 674 2139.4 681.2L2139.4 711.9M2130 719.4L2140.6 719.4M2140.6 719.4L2140.6 746.2M2140.6 746.2L2130 746.2M2130 746.2L2130 719.4M1886.9 713.8L1886.9 750M1916.9 713.8L1916.9 750M1936.9 713.8L1936.9 750M1962.5 713.8L1962.5 750M1966.2 713.8L1966.2 750M2011.2 713.8L2011.2 750M2015.6 713.8L2015.6 750M2062.5 713.8L2062.5 750M2082.5 713.8L2082.5 750M2088.8 713.8L2088.8 750M2095 713.8L2095 750M2108.1 713.8L2108.1 750M2111.2 713.8L2111.2 750M2128.8 713.8L2128.8 750M2156.2 713.8L2156.2 750M1983.8 716.2L1992.5 716.2M1992.5 716.2L1992.5 720.6M1992.5 720.6L1983.8 720.6M1983.8 720.6L1983.8 716.2M1986.2 720.6L1986.2 750M1990.6 720.6L1990.6 750M1860 735L1869.4 735M1869.4 735L1869.4 742.5M1860 750L1868.8 736.2M1922.5 756.2L1922.5 748.1M1922.5 748.1L1936.2 746.9M1936.2 746.9L1936.2 756.2M2170 661.9L2392.5 656.2M2170 669L2392.5 663.5M2170 670.6L2195 670.2M2173.1 658.8L2173.1 675M2211.9 658.8L2211.9 675M2230.6 658.8L2230.6 675M2248.8 658.8L2248.8 675M2270 658.8L2270 675M2320 658.8L2320 675M2336.9 658.8L2336.9 675M2354.4 658.8L2354.4 675M2371.2 658.8L2371.2 675M2300.6 658.8L2300.6 674.4M2303.1 658.8L2303.1 674.4M2381.2 656.9L2380 671.9M2391.9 581.2L2391.9 672.5M2391.9 633.8L2380.6 667.5M2271.2 675L2271.2 710.6M2333.1 674.4L2333.1 710M2203.8 690L2203.8 711.2M2199 674L2240 716.2M2206.2 676.2L2248.8 716.2M1860 788.8L1990 787.5M1860 825.2L1998.8 824.4M2026.2 815L2111.2 814.8M2076.2 809L2111.2 808.8M2000 809.6L2025 809.4M1900 772.5L1900 850M1916.9 740L1916.9 750.6M1926.2 746.9L1933.8 746.9Q1936.2 746.9 1936.2 749.4L1936.2 789.4Q1936.2 791.9 1933.8 791.9L1926.2 791.9Q1923.8 791.9 1923.8 789.4L1923.8 749.4Q1923.8 746.9 1926.2 746.9ZM1957.5 740L1957.5 825M1962.5 740L1962.5 825M1999.4 783.1L1999.4 848.8M2012.5 848.5L2012.5 803.8Q2015.6 798.8 2018.8 803.8L2018.8 848.5M2025.6 750.6L2025.6 848.5M2041.2 750.6L2041.2 781.9M2058.8 750.6L2058.8 781.9M2076.2 750.6L2076.2 815M2128.8 750L2128.8 780.6M2156.2 750L2156.2 780.6M2165 780.6L2165 840M1869.4 825L1869.4 849.8M1904.4 825L1904.4 849.8M1921.2 825L1921.2 849.8M1938.1 825L1938.1 849.8M1956.2 825L1956.2 849.8M1965 825L1965 849.8M1973.1 825L1973.1 849.8M2006.2 832.8L2006.2 848.2M2021.2 832.5L2021.2 848.1M2043.1 832L2043.1 847.8M2060 831.6L2060 847.6M2078.1 831.2L2078.1 847.4M2095 830.8L2095 847.2M2130 830.1L2130 846.8M2147.5 829.7L2147.5 846.5M2127.2 786.2L2128.4 786.2Q2133.1 786.2 2133.1 791L2133.1 820.2Q2133.1 825 2128.4 825L2127.2 825Q2122.5 825 2122.5 820.2L2122.5 791Q2122.5 786.2 2127.2 786.2ZM2141.6 785.6L2142.8 785.6Q2147.5 785.6 2147.5 790.4L2147.5 819.6Q2147.5 824.4 2142.8 824.4L2141.6 824.4Q2136.9 824.4 2136.9 819.6L2136.9 790.4Q2136.9 785.6 2141.6 785.6ZM2154.8 785.6L2154.6 785.6Q2159.4 785.6 2159.4 790.4L2159.4 820.2Q2159.4 825 2154.6 825L2154.8 825Q2150 825 2150 820.2L2150 790.4Q2150 785.6 2154.8 785.6ZM1860 749.4L1866.2 740M1869.4 752.5L1860 766.9M2170 764.8L2306.2 764M2323.8 763.9L2370 763.5M2372.5 763.5L2470 763.5M2376.2 767.2L2403.8 767.2M2410 767.2L2471.2 767M2395 771L2417.5 771M2425 771L2456.2 770.8M2170 780.4L2231.2 779.8M2180 748.8L2180 780M2196.9 748.8L2196.9 780M2213.8 748.8L2213.8 780M2334.4 747.9L2334.4 792.9M2344.4 747.9L2344.4 787.9M2353.1 747.9L2353.1 782.9M2361.2 747.9L2361.2 774.8M2240 779.1L2240 824.1M2248.8 779.1L2248.8 821.6M2256.9 779.1L2256.9 819.1M2265.6 779.1L2265.6 816.6M2274.4 779.1L2274.4 814.1M2283.8 779.1L2283.8 811.6M2292.5 779.1L2292.5 809.1M2300.6 779.1L2300.6 807M2310 779.1L2310 803.5M2318.1 779.1L2318.1 801M2327.5 779.1L2327.5 797.2M2180.6 824.8L2181.2 837.9M2198.1 820.4L2198.8 833.5M2214.4 812.2L2215 829.1M2238.1 716L2382.5 857.2M2246.9 716L2328.1 793.5M1258.8 565L1391.2 538.8M1257.5 576.5L1391.9 550.9M1391.9 540L1397.8 570M1255 546.9L1385 521.5M1252.5 543.8Q1290 516.2 1369.4 501.2L1391.9 516M1276.2 532.8Q1300 515 1340 507.5M1281.2 530.2Q1296.2 520 1310 515L1330 513.8M1270 543.8L1278.8 551.5M1292.5 540L1301.5 547.5M1298.8 515.2L1365 525.2M1310 515L1312.5 521.2M1327.5 513.8L1346.2 522.5M1313.8 483.1L1326.2 472.8M1326.2 472.8L1330 488.1M1330 488.1L1313.8 483.1M1402.5 563.1L1407.5 563.1M1397.5 570.6L1425 570.6M1398.8 577.5L1423.8 577.5M1425 570.6Q1430.6 571.2 1430.6 576.2L1430 596.2M1506.9 535L1550.4 535M1517.5 526.5L1517.5 545.6M1535 526.5L1535 545.6M1542.5 526.5L1542.5 545.6M1513.8 507.5L1513.8 526.2M1508.8 545L1512.8 527.5M1512.8 527.5L1518.1 545M1531.2 560.6A3.1 3.1 0 1 0 1537.5 560.6A3.1 3.1 0 1 0 1531.2 560.6ZM1486.9 570.6L1506.9 570.6M1486.9 577.5L1506.9 577.5M1486.9 585L1506.9 585M1486.9 570.6L1486.9 596.2M1496.9 570.6L1496.9 585M1550 407.5L1566.2 411.5M1566.2 411.5L1550 422.5M1617.5 405.6L1617.5 415.6M1630 405.6L1630 415.6M1643.1 405.6L1643.1 415.6M1656.2 405.6L1656.2 415.6M1666.9 405.6L1666.9 415.6M1680 405.6L1680 415.6M1692.5 405.6L1692.5 415.6M1710 405.6L1710 415.6M1723.8 405.6L1723.8 415.6M1621.2 415.6L1621.2 447.5M1626.2 415.6L1626.2 447.5M1658.8 415.6L1658.8 447.5M1666.2 415.6L1666.2 447.5M1701.9 415.6L1701.9 447.5M1706.2 415.6L1706.2 447.5M1681.2 416.2L1687.5 447.5M1662.5 402.5L1660 448.8M1633.8 356.2L1642.5 376.2M1650 355.6L1637.5 375M1630 367.5L1656.9 366.2M1636.2 358.8L1656.2 371.2M1640.5 368.1A3.5 3.5 0 1 0 1647.5 368.1A3.5 3.5 0 1 0 1640.5 368.1ZM1657.5 354.8A4.4 4.4 0 1 0 1666.2 354.8A4.4 4.4 0 1 0 1657.5 354.8ZM1656.2 361.2L1667.5 360M1667.5 360L1685 372.8M1685 372.8L1693.1 375.2M1693.1 375.2L1693.1 388.8M1667.5 360L1665 355M1667.5 360L1681.2 365M1680 375L1680 391.9M1686.9 375L1686.9 391.9M1673.8 380.6L1693.1 380.6M1673.8 386.2L1693.1 386.2M1662.1 372.5L1666.6 372.5Q1668.1 372.5 1668.1 374L1668.1 382.9Q1668.1 384.4 1666.6 384.4L1662.1 384.4Q1660.6 384.4 1660.6 382.9L1660.6 374Q1660.6 372.5 1662.1 372.5ZM1636.2 377.5L1636.2 396.9M1641.9 377.5L1641.9 396.9M1647.5 448.8L1647.5 478.8M1720.6 448.8L1720.6 478.8M1667.5 466.2L1650 496.2M1612.5 450L1627.5 457.5M1627.5 457.5L1636.2 458.1M1627.5 457.5L1632.5 478.8M1650 478.8L1650 511.2M1670 480L1651.2 507.5M1666.2 473.8L1651.2 493.8M1658.8 485L1665 490M1676.2 480L1681.2 510M1685 480L1690 510M1721.2 478.8L1721.2 511.2M1720 482.5L1713.8 497.5M1627.5 511.9L1624.4 544.4M1640 512.5L1643.8 543.8M1677.5 512.5L1677.5 542.5M1675 512.5L1656.2 543.8M1662.5 513.8L1653.8 528.8M1653.8 528.8L1655 543.8M1663.8 516.2L1670 522.5M1723.1 511.2L1723.1 544.4M1723.8 524.6L1740.9 524.6M1740.9 524.6L1740.9 544.6M1740.9 544.6L1723.8 544.6M1723.8 544.6L1723.8 524.6M1723.8 531.2L1740.9 531.2M1723.8 533.1L1740.9 533.1M1550 535L1625 535M1555.6 526.2L1555.6 545M1563.8 526.2L1563.8 545M1583.8 526.2L1583.8 545M1598.8 526.2L1598.8 545M1612.5 526.2L1612.5 545M1621.9 526.2L1621.9 545M1572.5 535L1572.5 545M1555 526.2L1560 517.5M1560 517.5L1563.8 526.2M1615.6 514.4L1615.6 526.2M1580 548.8L1580 560M1555.4 560A3.4 3.4 0 1 0 1562.1 560A3.4 3.4 0 1 0 1555.4 560ZM1588.4 559.8A3.5 3.5 0 1 0 1595.4 559.8A3.5 3.5 0 1 0 1588.4 559.8ZM1615 558.8A3.1 3.1 0 1 0 1621.2 558.8A3.1 3.1 0 1 0 1615 558.8ZM1602.5 560L1602.5 561.2Q1605 556.2 1611.2 556.2Q1613.8 557.5 1613.1 560M935.5 438L935.5 560.5M946 523L946 560.5M882.5 446L940 475.5M922.5 514.2L952.5 514.2M952.5 514.2L952.5 523M952.5 523L922.5 523M922.5 523L922.5 514.2M917.5 526L961.2 526M930 526.8L940 535.5M940 535.5L950 526.8M959 539.8A3.5 3.5 0 1 0 966 539.8A3.5 3.5 0 1 0 959 539.8ZM945 548L957.5 538.5M1082.5 503L1091.2 499.2M1091.2 499.2L1106.2 500.5M1106.2 500.5L1105 509.2M1105 509.2L1087.5 510.5M1087.5 510.5L1082.5 503M417.5 724.5L472.5 724.2M417.5 728.2L472.5 728M416.2 732.2L416.2 741M523.8 716L523.8 764.8M380 752.2L396.2 733.5M380 762.2L401.2 733.5M438.8 762.2L453.8 738.5M446.2 762.2L463.8 738.5M418.8 741L418.8 764.8M440 738.5L440 762.2M470 740.4L470 764.8M525.6 734.8L571.2 734.5M543.8 734.8L543.8 764.5M547.5 734.8L547.5 764.5M551.9 734.8L551.9 764.5M602.5 729.1L602.5 764.8M643.8 728.5L643.8 796M650 728.5L650 796M525.6 729.1L535 729.1M557.5 728.9L567.5 728.9M442.5 771L442.5 797.2M447.5 771L447.5 797.2M423.8 767.2L423.8 796M425.6 767.2L425.6 796M380 767.2L423.8 767.2M380 784.8L423.8 784.8M380 794.1L423.8 794.1M551.2 782.9L553.8 782.9M477.5 764.5L477.5 796M498.8 764.5L498.8 796M576.2 764.5L576.2 796M580 764.5L580 796M623.8 764.5L623.8 796M678.8 764.5L678.8 796M602.5 764.1L602.5 864.8M482.5 797.2L482.5 864.8M567.5 796L567.5 826M515 826.2L597.5 823.2M597.5 823L690.4 821.2M411.2 828.5L411.2 865M438.8 828.5L438.8 864.8M447.5 828.5L447.5 864.7M455 828.5L455 864.7M462.5 828.5L462.5 864.6M466.2 828.5L466.2 864.6M473.8 828.5L473.8 864.5M498.8 828.5L498.8 864.4M516.2 829.2L516.2 864.2M567.5 831.4L567.5 863.8M585 832.1L585 863.7M591.2 832.4L591.2 863.7M621.2 833.7L621.2 863.4M636.2 834.3L636.2 863.3M646.2 834.8L646.2 863.3M672.5 835.9L672.5 863.1M533.8 829.1L533.8 841M380 835L408.8 859.8M412.5 856.6L428.1 856.6L428.1 864.8L412.5 864.8ZM380 823.5L393.8 823.5M393.8 814.8L393.8 828.5"/>
<path stroke-width="2.3" d="M60.8 640L67.5 636.5M66.5 638.5L98 712M102.5 720C106.2 755 120 786.2 150 798.8C165 803.8 180 805.8 197.5 806.5M102.5 720L104 735M103 734.2L380 734.2M123.8 770.8L380 770.8M343.8 812L380 812M185 807L241.2 807M207.5 830.8L350 830.8M322.5 845C322.5 833.8 335 832.5 345 833C360 833.8 367 840 366.2 848.8C365.5 858.8 355 862 342.5 862C330 862 322.5 856.2 322.5 845ZM350 828.8C375 831.2 390 845 413.8 864.2M677 658.8L677 727M620 658.8L942.5 658.8M676.2 693L1212.5 690.8M620 727.5L1195 723M690 762.2L1240.8 756M690 862.3L1240.8 856.5M748 609.2L748 593L753.8 584.5L760 573.8L763.8 570L781.2 569.5L795 567.5Q803.8 570 803.8 580L803.8 605Q802.5 608.8 798.8 608.8ZM785 568.8L798.5 568.8Q800.5 568.8 800.5 570.8L800.5 582.5Q800.5 584.5 798.5 584.5L785 584.5Q783 584.5 783 582.5L783 570.8Q783 568.8 785 568.8ZM784.5 589.5L798.5 589.5Q800.5 589.5 800.5 591.5L800.5 603.5Q800.5 605.5 798.5 605.5L784.5 605.5Q782.5 605.5 782.5 603.5L782.5 591.5Q782.5 589.5 784.5 589.5ZM795 624.5L868.8 624.5M845.5 594.5L899 576M850 604.2L895.5 580.5M865 590L885 581.2M866.2 593L886.2 584M896.5 577L894.8 590.2M894.8 590.2L901 606M901 606L903.5 588.5M903.5 588.5L901 576M919 568.2A9.5 9.5 0 1 0 938 568.2A9.5 9.5 0 1 0 919 568.2ZM928.5 562.5L928.5 581.2M896.2 692.5L896.2 843M690 820L750 820M777.5 788.8L782.5 777.5Q789.5 772.5 795 780.5L798.8 788.8L804.5 788.8L804.5 775.5Q810 770 820 769.5L845 769.5Q856.2 770.5 856.5 780L857.5 787L870 790L878 795L873 801.2L852.5 802.5L853.8 808L863.8 812.5L867.5 835L870 842.5M792.5 825.5L804.5 823.8L808.8 815Q816.2 831.2 835.5 836.2L868 842M792.5 825.5L795 831.8M795 831.8L808 830M808 830L792.5 837.5M949.5 773.8L969.2 773.8Q973.8 773.8 973.8 778.2L973.8 778.8Q973.8 783.2 969.2 783.2L949.5 783.2Q945 783.2 945 778.8L945 778.2Q945 773.8 949.5 773.8ZM1132.5 670L1177 670M1177 670L1177 682.5M1177 682.5L1132.5 682.5M1132.5 682.5L1132.5 670M1135.5 670L1135.5 682.5M1138.8 670L1138.8 682.5M1142 670L1142 682.5M1145.2 670L1145.2 682.5M1148.5 670L1148.5 682.5M1151.8 670L1151.8 682.5M1155 670L1155 682.5M1158.2 670L1158.2 682.5M1161.5 670L1161.5 682.5M1164.8 670L1164.8 682.5M1168 670L1168 682.5M1171.2 670L1171.2 682.5M1174.5 670L1174.5 682.5M1256.2 565.6L1258.5 578.8L1262.2 579.8L1273.5 644.4Q1274 648.1 1266.9 651.9L1240 651.9M1241.2 651.9L1241.2 674M1373.8 606L1373.8 716.2M1393.1 560L1396.2 571.9M1398.8 560L1398.8 571.9M1405 560L1405 571.9M1412.5 560L1412.5 571.9M1425 617.5L1550.4 616.9M1415 649.8L1550.4 649M1425.2 617.5L1425.2 650M1427.5 623.8L1440.6 623.8M1440.6 623.8L1440.6 645.6M1440.6 645.6L1427.5 645.6M1427.5 645.6L1427.5 623.8M1445 623.8L1465.6 623.8M1465.6 623.8L1465.6 645.6M1465.6 645.6L1445 645.6M1445 645.6L1445 623.8M1487.5 584.8L1507.5 584.8M1507.5 585.2L1550.4 585M1502.5 684.5L1550.4 683.8M1240 721.6L1550.4 719.5M1240 832.5L1502.5 830M1240 841.2L1550.4 839M1240 856.8L1550.4 854M1295.9 777.2L1360.2 777.2M1360.2 777.2L1360.2 808.5M1360.2 808.5L1295.9 808.5M1295.9 808.5L1295.9 777.2M1349 766Q1350.9 757.9 1357.8 758.2Q1367.1 759.8 1366.5 776.6M1383.8 775.4L1448.1 775.4M1448.1 775.4L1448.1 806.6M1448.1 806.6L1383.8 806.6M1383.8 806.6L1383.8 775.4M1395 764.1Q1393.1 756 1386.2 756.4Q1376.9 757.9 1377.5 774.8M1295 721L1295 766M1356.9 716L1356.9 766M1374.4 716L1374.4 841M1296.2 749.1L1356.2 749.1M1388.8 748.8L1452.5 748.8M1243.8 723.5L1243.8 841M1503.8 744.8L1503.8 856M1513.8 789.8L1516.2 784.1M1516.2 784.1L1531.2 781.2M1531.2 781.2L1535 776.2M1535 776.2L1550.4 778.5M1540 788.5L1540 855.4M1550 584.6L1625.6 584.4M1626.2 577.8L1711.9 577.2M1550 618.2L1755 617M1550 649.5L1860.4 647.5M1550 683.8L1860.4 681.5M1625.6 560L1625.6 716.2M1711.9 560L1711.9 716.2M1578.1 603.1L1578.1 600M1578.1 600L1603.8 599.8M1603.8 599.8L1603.8 616.2M1572.5 629.4L1605 629.4M1585 666.2L1606.9 666.2M1608.1 646.2L1608.1 629.4M1608.1 629.4L1617.5 629.4M1617.5 629.4L1625 646.2M1620 635.2L1636.2 635.2M1641.2 637.8L1648.8 637.8M1706.2 590L1742.5 590M1745 560L1737.5 580M1725.6 565.6L1725.6 568.8M1730 565.6L1730 568.8M1734.4 565.6L1734.4 568.8M1738.8 565.6L1738.8 568.8M1740 609.5L1748.8 609.5M1762.5 606.5L1810 606.5M1775 628.1L1798.8 628.1M1785.2 628.1L1788.5 628.1M1788.5 628.1L1788.5 701.2M1788.5 701.2L1785.2 701.2M1785.2 701.2L1785.2 628.1M1786.9 628.1L1786.9 701.2M1550 753.5L1860.4 751.2M1572.5 838.1L1860.4 835.6M1550 839.4L1572.5 839.1M1550 853.8L1860.4 850M1625 717.9L1625 752.9M1643.8 717.9L1643.8 752.9M1712.5 717.9L1712.5 752.9M1781.2 717.9L1781.2 752.9M1573.8 752.9L1573.8 853.5M1712.5 752.9L1712.5 852.5M1791.2 752.2L1791.2 851.6M1546.2 809.1A11.2 11.2 0 1 0 1568.8 809.1A11.2 11.2 0 1 0 1546.2 809.1ZM1550 718.5L1860.4 716.6M1860 640.2L1911.2 639.8M1860 680.2L2041.2 678.5M1945 674L2016.2 673.8M1996.9 643.8L1997.5 637.5Q2002.5 635 2007.5 642.5M1956.9 681.2Q1956.2 687.5 1962.5 687.5M1956.9 700L1956.9 696.2M1956.9 696.2L1962.5 696.2M1923.8 700L1931.2 700M1937.5 700L1942.5 700M2043.8 678.8L2047.5 667.5M2047.5 667.5L2052.5 667.5M2052.5 667.5L2056.9 678.8M2056.9 678.8L2043.8 678.8M2097.5 712.5L2108.8 712.5M1860 714L2170.4 710.8M1860 750.8L2170.4 748.8M2170 676.9L2270 674.4M2270 674.4L2394.4 672.2M2190.6 661.2L2190.6 676.9M2388.5 580.6L2395.2 580.6M2394.4 672.5L2384 710M2384 710L2382.5 716.2M2170 712L2383.8 710M2193.1 673.8L2231.2 716.2M2255 680.6L2262.5 685M2266.2 687.5L2272.5 690M1867.5 783.1L1875 783.1M1892.5 783.5L1902.5 783.5M1911.2 783.8L1922.5 783.8M1928.8 783.8L1936.2 783.8M1962.5 783.1L1977.5 783.1M1985 782.2L2076.2 781.5M2111.2 781L2170.4 780.2M1860 836.5L2025 833.8M2025 833.8L2165 829.5M1860 850.2L2025 847.8M2025 847.8L2147.5 846.2M2147.5 846.2L2170.4 841.9M1886.2 740L1886.2 850M1990 742.5L1990 850M2111.9 750.6L2111.9 848.1M2383.5 716Q2385.2 731 2380.6 747.2Q2372.5 769.8 2355 782.2Q2342.5 791 2326.2 797.9L2307.5 805L2257.5 818.5L2170 841.6M2170 749.2L2380 747.2M2313.8 764.1L2316.2 764.1M2231.2 779.8L2356.2 778M2230.6 716L2230.6 824.8M2230.6 716.6L2324.4 802.2M2381.2 856.6L2393.8 868.5M1255 546.9L1258.8 565M1258.8 565L1256.2 566.2M1256.2 566.2L1258.8 576.9M1258.8 576.9L1261.9 577.5M1261.9 577.5L1265.6 596.2M1385 520.6Q1388.1 522.5 1388.8 538.8L1401.2 596.2M1249.4 546.2L1391.9 516.2M1262.5 536.9Q1302.5 510.6 1368.8 502.8M1398.1 570L1398.1 556.2Q1400 550.6 1406.2 550.6Q1413.1 551.2 1414.4 558.8L1413.8 570.6M1402.5 552.5L1402.5 570.6M1407.5 552.5L1407.5 570.6M1506.9 526.2L1506.9 585M1506.9 526.5L1550.4 526.5M1506.9 545.6L1550.4 545.6M1508.1 513.1A5.6 5.6 0 1 0 1519.4 513.1A5.6 5.6 0 1 0 1508.1 513.1ZM1506.9 585L1550.4 585M1750 405L1721.2 477.5M1601.9 405.6L1725.6 405.6M1725.6 405.6L1725.6 448.8M1725.6 448.8L1601.9 448.8M1601.9 448.8L1601.9 405.6M1601.9 415.6L1725.6 415.6M1601.9 447.2L1725.6 447.2M1601.9 420L1614.4 420M1614.4 420L1614.4 431.2M1614.4 431.2L1603.8 431.2M1725.6 421.2L1710 421.2M1710 421.2L1710 428.8M1710 428.8L1723.8 428.8M1645 401.2L1630 496.2M1678.8 401.2L1700 496.2M1631.9 377.5L1631.9 396.2M1631.9 396.2L1636.2 398.1M1636.2 398.1L1687.5 398.1M1687.5 398.1L1688.8 392.5M1688.8 392.5L1693.1 387.5M1627.5 373.8L1633.8 356.2M1633.8 356.2L1650 355.6M1650 355.6L1656.2 361.2M1656.2 361.2L1656.9 371.2M1656.9 371.2L1642.5 376.2M1642.5 376.2L1631.9 377.5M1631.9 377.5L1627.5 373.8M1675 375L1691.9 375Q1693.1 375 1693.1 376.2L1693.1 390.6Q1693.1 391.9 1691.9 391.9L1675 391.9Q1673.8 391.9 1673.8 390.6L1673.8 376.2Q1673.8 375 1675 375ZM1661.2 389.4L1668.1 389.4M1645 401.5L1662.5 401.5M1666.2 401.5L1678.8 401.5M1631.2 478.8L1721.2 478.8M1647.5 465L1671.2 465M1671.2 465L1671.2 478.8M1647.5 470.6L1666.2 470.6M1636.9 448.8L1636.9 496.2M1631.2 478.8L1627.5 511.2M1671.2 470L1671.2 511.2M1695 470L1711.2 545M1627.5 511.2L1723.1 511.2M1550 545.8L1741.2 544M1550 526.2L1625 526.2M1610.6 519.4A5 5 0 1 0 1620.6 519.4A5 5 0 1 0 1610.6 519.4ZM1620 522.5L1623.8 545M1625.6 545L1625.6 560M1711.9 545L1711.9 560M1711.9 553.8L1742.5 561.2M947.5 595L956.2 595M388.8 723.8L417.5 723.8M388.8 732.2L520 731.8M520 716L520 764.8M415 732.2L421.2 732.2L421.2 741L415 741ZM469.4 732.2L474.4 732.2L474.4 740.4L469.4 740.4ZM572.5 729.1L690.4 728.2M572.5 729.1L572.5 796M613.8 729.1L613.8 796M420 764.2L690.4 762.8M438.1 762.9L451.2 762.9Q452.5 762.9 452.5 764.1L452.5 769.8Q452.5 771 451.2 771L438.1 771Q436.9 771 436.9 769.8L436.9 764.1Q436.9 762.9 438.1 762.9ZM428.1 764.1L428.1 864.8M380 798L567.5 796.2L575 795L690.4 794.5M517.5 764.1L517.5 864.8M380 828.8L515 827M515 829.1L605 832.5L690.4 836.6M403.8 865.4L690.4 863M577.5 848.5L577.5 864.8M380 831L411.2 857.2M380 839.8L405 865.4M430 819.8L433.8 819.8L433.8 811Q436.9 806 440 811L442.5 819.8L447.5 819.8M410 826L411.2 819.8Q413.1 816 415.6 819.8L418.8 826M380 815.4L393.8 815.4"/>
<path stroke-width="1.5" d="M360.7 277L463.8 701M360.7 277L548.8 662.5M579 275L656 632.5M678 275L757 598.8M755 275L842 645M846 271L896 680M938 272.6L1052.5 675M1080 269L1084 631M1373 263L1405 562M1473.8 262L1500 607M1523 260L1545 569M1586.8 257.6L1650 566M1729.5 258.5L1677.5 364M1761.8 258.5L1676 431M1803 255.4L1713.8 497.5M1803 255.4L1681 470.6M1896 255.4L1738 578M2005.5 254L1730 614M2163.7 252.3L1800 583M2216 253L1901 610M2216 253L1955.6 648.8M2274.5 249.6L2183.8 725M2383.4 247.9L2300.6 685M2433 246.5L2366 694M109.6 997.3L157.5 757.5M156.6 997.3L202.5 775M226 992L256.2 791.2M283.8 994.2L313.8 812.5M371.5 992L402.5 810M430.8 990.7L462.5 811.2M516.9 986.3L468 775.3M516.9 986.3L491 790M516.9 986.3L541.2 789.3M578.2 985.3L546 820M578.2 985.3L578.2 847M578.2 985.3L595.5 803.4M629.6 987.4L624 748.3M683.6 987.4L644.7 828.3M743.9 985.3L636.4 785.7M743.9 985.3L667 789.5M785.5 985.3L672.8 748.3M912.9 983.2L837.5 826.2M912.9 983.2L1010 782.5M1093.2 982.3L1090 811.2M1331.7 977.3L1170 818.8M1331.7 977.3L1335 817M1331.7 977.3L1425 812M1439 972.9L1590 620M1558.6 972L1538.8 787.5M1598.5 971L1597.5 804M1623.3 972L1667.5 762M1679.5 971L1676.9 805.4M1706 969.8L1731.2 801.6M1743 968.5L1742.5 771M1783.7 968.5L1781.9 772M1846.6 966.7L1826.9 804.8M1846.6 966.7L1877.5 800M1902 966.7L1900 772.5M1902 966.7L1949.4 771.2M2018.5 965.4L1943.8 811.2M2018.5 965.4L1980.6 808M2046 964L2006.9 812.5M2091.6 964L2037.5 775M2091.6 964L2057.5 805.6M2133.7 963.2L2097.5 788M2178 962.3L2143 810M2242.2 961L2210 819.8M2349.9 959.6L2326.5 812L2323.8 803.5"/>
<path stroke-width="1.6" stroke-dasharray="8 4" d="M257.5 820A7 7 0 1 0 271.5 820A7 7 0 1 0 257.5 820M763 626.2L792.5 626.2M690 781.2L758.8 781.2M690 795L758.8 795M690 831.2L775 831.2M690 837.5L775 837.5M767.5 793L895 793M896.2 795L1060 795M898.8 816.2L1062.5 816.2M1072.5 715L1072.5 825M1077.5 715L1077.5 825M1105 715L1105 825M1110 715L1110 825M1077.5 742.5L1113.8 742.5M1117.5 790L1170 790M1117.5 742.5L1165 720M1160 735L1195 720M1220 688L1240.8 688M1032.5 692.5L1032.5 725.5M1045 692.5L1045 725.5M1140 692.5L1140 725.5M1182.5 692.5L1182.5 725.5M1018.8 725.5L1018.8 760M1050 725.5L1050 760M1276.2 642.8L1345 628.8M1271.2 651.9L1425 651.9M1240 686.2L1502.5 686.2M1283.8 660L1283.8 716.2M1241.9 690L1241.9 716.2M1360.6 625L1360.6 647.5M1369.4 625L1369.4 647.5M1352.5 625.2L1371.2 625.2M1358.8 647.5L1372.5 658.8M1382.5 620L1390 620M1396.2 618.1L1403.8 618.1M1438.8 672.5L1445 681.2M1446.2 686.2L1452.5 692.5M1472.5 663.8L1477.5 670M1482.5 676.2L1488.8 682.5M1460 706.2L1497.5 706.2M1243.8 788.5L1290 788.5M1365 787.9L1385 787.9M1460 786.2L1515 785.8M1241.9 716L1241.9 757.2M1525 786L1550.4 785.4M1627.5 584.4L1691.2 584M1720 625L1720 647.5M1740 622.5L1740 647.5M1795 784.1L1840 783.5M1997.5 701.2Q2000 707.5 2010 708.8M1957.5 714L1957.5 750M2271.2 683.1A11.2 11.2 0 1 0 2293.8 683.1A11.2 11.2 0 1 0 2271.2 683.1M2331.2 801L2385 852.2M2330 812.2L2377.5 857.2M1692.5 483.8L1696.2 507.5"/>
<path d="M370 701.5L422.5 700.2L422.5 705L370 703.8Z" fill="#000" stroke="none"/>
<path d="M471.2 665L526.2 664L526.2 668.2L471.2 667.2Z" fill="#000" stroke="none"/>
<path d="M1571.2 637.5L1580 637.5L1580 645L1571.2 645Z" fill="#000" stroke="none"/>
<path d="M1927.5 612.5L1955 612.2Q1956.5 614 1955 615.9L1927.5 615.5Z" fill="#000" stroke="none"/>
<path d="M2025 646.5L2061.9 646.5Q2063.5 648 2061.9 649.5L2025 649.5Z" fill="#000" stroke="none"/>
<path d="M2380 859.8L2386.9 854.8L2388.1 861.6Z" fill="#000" stroke="none"/>
<path d="M937 383L939 383L942.5 473L944 560.5L939.5 560.5L938 473Z" fill="#000" stroke="none"/>
<path d="M382.5 814.8Q383.8 809.1 387.5 809.1Q391.9 809.8 392.5 814.8Z" fill="#000" stroke="none"/>
<g stroke="none" transform="scale(0.93 1)"><text x="387.8" y="268" text-anchor="middle">1</text><text x="620.4" y="267" text-anchor="middle">2</text><text x="730.9" y="265.5" text-anchor="middle">3</text><text x="810.8" y="264.6" text-anchor="middle">4</text><text x="910.8" y="261.5" text-anchor="middle">5</text><text x="1004.8" y="261" text-anchor="middle">6</text><text x="1161.3" y="258" text-anchor="middle">7</text><text x="1478" y="252.7" text-anchor="middle">8</text><text x="1583.3" y="251" text-anchor="middle">9</text><text x="1641.9" y="251" text-anchor="middle">10</text><text x="1706.5" y="251" text-anchor="middle">11</text><text x="1857.4" y="250.4" text-anchor="middle">12</text><text x="1900.3" y="250.4" text-anchor="middle">13</text><text x="1937.6" y="249.6" text-anchor="middle">14</text><text x="2034.9" y="246.5" text-anchor="middle">15</text><text x="2155.5" y="245.6" text-anchor="middle">16</text><text x="2332.7" y="243" text-anchor="middle">2</text><text x="2381.7" y="242" text-anchor="middle">1</text><text x="2441.4" y="241.2" text-anchor="middle">17</text><text x="2559.1" y="239.9" text-anchor="middle">18</text><text x="2624.3" y="237.7" text-anchor="middle">19</text><text x="119.4" y="1017.3" text-anchor="middle">43</text><text x="173.1" y="1015.5" text-anchor="middle">23</text><text x="243" y="1015.5" text-anchor="middle">42</text><text x="298.9" y="1014" text-anchor="middle">21</text><text x="398.9" y="1012" text-anchor="middle">41</text><text x="462.4" y="1014" text-anchor="middle">40</text><text x="552.7" y="1013.3" text-anchor="middle">26</text><text x="619.4" y="1013.3" text-anchor="middle">39</text><text x="677.4" y="1011" text-anchor="middle">38</text><text x="731.2" y="1011" text-anchor="middle">37</text><text x="798.2" y="1009.8" text-anchor="middle">28</text><text x="844.4" y="1008.4" text-anchor="middle">30</text><text x="980.2" y="1007.5" text-anchor="middle">36</text><text x="1174.6" y="1004.4" text-anchor="middle">33</text><text x="1433.3" y="1000" text-anchor="middle">35</text><text x="1541.9" y="997.3" text-anchor="middle">6</text><text x="1675.9" y="995" text-anchor="middle">34</text><text x="1718.8" y="994.2" text-anchor="middle">33</text><text x="1748.8" y="996.4" text-anchor="middle">32</text><text x="1800.2" y="994.2" text-anchor="middle">31</text><text x="1834.4" y="994.2" text-anchor="middle">30</text><text x="1871.2" y="993.3" text-anchor="middle">29</text><text x="1919.4" y="994.2" text-anchor="middle">28</text><text x="1983.2" y="990.6" text-anchor="middle">26</text><text x="2046.6" y="991" text-anchor="middle">27</text><text x="2165.6" y="988.9" text-anchor="middle">26</text><text x="2206.1" y="987.5" text-anchor="middle">25</text><text x="2240.9" y="987.5" text-anchor="middle">24</text><text x="2291" y="986.2" text-anchor="middle">23</text><text x="2346.7" y="985.3" text-anchor="middle">22</text><text x="2408.6" y="984" text-anchor="middle">21</text><text x="2526.9" y="981.8" text-anchor="middle">20</text></g>
</svg></body></html>
